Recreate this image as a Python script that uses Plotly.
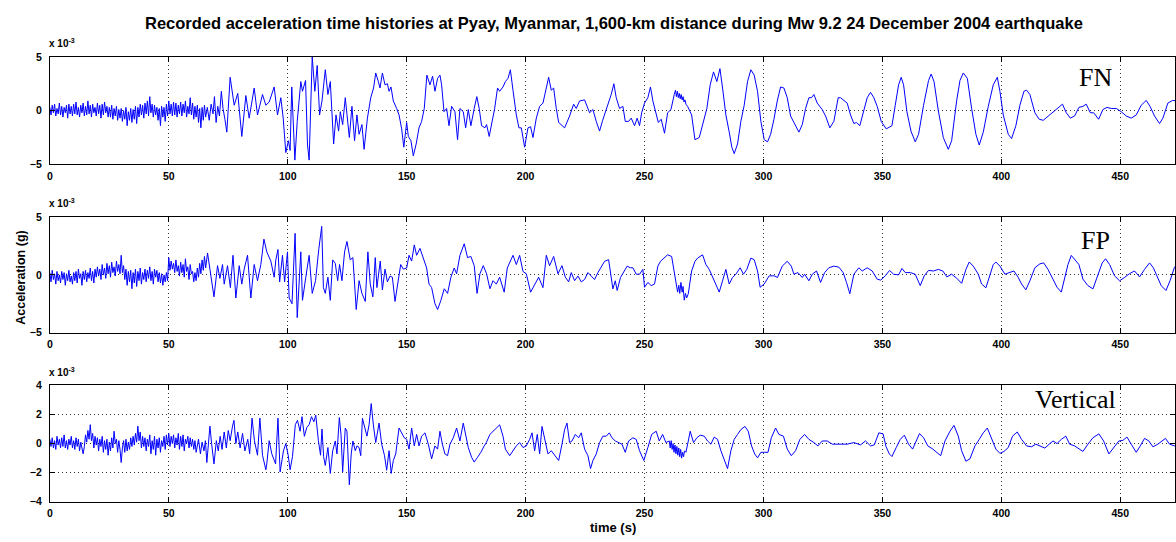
import numpy as np
import plotly.graph_objects as go

# Acceleration records, values in units of 1e-3 g.
# Early dense part: samples every 0.5 s starting at t = 0.
NOISE_STEP = 0.5

fn_early = [
    0.3, -0.4, 0.5, -0.2, 0.6, -0.5, 0.2, -0.3, 0.7, -0.4,
    0.4, -0.6, 0.3, -0.2, 0.5, -0.7, 0.6, -0.3, 0.4, -0.5,
    0.6, -0.3, 0.8, -0.4, 0.3, -0.6, 0.5, -0.2, 0.7, -0.5,
    0.4, -0.4, 0.9, -0.3, 0.5, -0.6, 0.6, -0.2, 0.3, -0.5,
    0.7, -0.3, 0.5, -0.7, 0.6, -0.4, 0.8, -0.2, 0.4, -0.6,
    0.3, -0.6, 0.5, -0.8, 0.2, -0.5, 0.4, -0.9, 0.1, -0.7,
    0.2, -1.0, 0.0, -0.8, 0.3, -1.4, -0.1, -0.9, 0.2, -1.1,
    0.1, -0.8, 0.4, -1.2, 0.3, -0.6, 0.6, -0.4, 0.5, -0.7,
    0.7, -0.3, 0.9, -0.5, 1.3, -0.2, 0.6, -0.6, 0.5, -0.4,
    0.3, -0.9, 0.2, -1.4, 0.4, -0.6, 0.3, -1.0, 0.6, -0.5,
    0.9, -0.3, 0.6, -0.5, 0.8, -0.4, 0.7, -0.6, 0.5, -0.3,
    0.8, -0.5, 0.6, -0.2, 0.9, -0.6, 0.4, -0.3, 1.2, -0.4,
    0.7, -0.8, 0.4, -0.6, 0.5, -1.1, 0.2, -1.6, 0.3, -0.9,
    0.5, -0.6,
]

fn_late = [
    (66.2, 0.3), (67.0, -0.9), (67.8, 0.6), (68.6, -0.3), (69.2, 1.3), (69.9, -1.1),
    (70.6, 0.4), (71.3, -0.5), (72.1, 1.8), (72.8, 0.2), (73.6, -0.8), (74.4, -2.0),
    (75.0, 0.2), (75.8, 3.1), (77.5, 0.5), (79.0, 1.6), (80.7, -2.4), (82.4, 1.4),
    (83.8, -0.7), (85.9, 2.1), (87.3, -0.4), (89.4, 1.5), (90.8, 0.5), (92.2, 0.8),
    (94.3, 2.2), (95.7, -0.4), (97.1, 1.2), (98.1, -0.7), (99.2, -3.9), (100.3, -2.8),
    (101.0, -3.7), (101.7, 2.2), (103.0, -4.6), (104.0, -1.0), (105.5, 2.7), (106.2, 1.8),
    (107.5, 2.8), (108.3, -3.1), (109.0, -4.6), (110.3, 5.0), (111.4, 1.8), (112.4, 4.2),
    (113.4, -0.4), (114.4, 0.9), (115.8, 3.8), (116.9, 1.5), (117.9, 2.7), (119.3, -3.1),
    (120.3, -0.4), (121.4, -1.9), (122.1, -0.1), (123.1, -1.3), (124.2, 1.2), (125.2, -1.3),
    (125.9, -2.5), (127.0, 0.4), (128.1, -2.8), (129.1, -0.4), (130.0, -2.2), (131.2, -1.3),
    (132.1, -3.6), (133.5, -0.7), (134.9, 1.2), (136.1, 2.1), (137.0, 3.5), (138.1, 2.7),
    (138.8, 2.1), (139.8, 3.5), (140.9, 2.4), (141.9, 2.5), (142.6, 1.8), (143.4, 2.2),
    (144.4, 0.9), (145.8, 0.2), (146.8, -0.4), (147.9, -1.7), (148.8, -3.4), (150.0, -1.1),
    (150.7, -2.4), (151.8, -2.8), (152.8, -4.2), (154.0, -3.1), (155.2, -1.6), (156.3, -1.0),
    (157.4, 0.2), (158.5, 3.3), (159.8, 2.4), (160.9, 3.2), (161.9, 1.8), (163.0, 3.0),
    (164.0, 3.3), (164.7, 2.4), (165.7, -0.1), (166.8, 0.2), (167.8, -1.4), (168.9, 0.4),
    (170.3, -0.1), (171.4, -2.7), (172.4, 0.2), (173.8, -0.1), (174.8, -1.6), (175.9, 0.1),
    (177.0, -1.4), (178.4, 0.2), (179.5, 1.3), (180.5, 0.2), (181.5, -1.4), (182.9, -1.6),
    (183.6, -1.3), (184.7, -2.4), (186.0, -1.0), (187.0, 0.2), (188.2, 2.1), (189.1, 1.8),
    (190.5, 2.2), (191.5, 2.7), (192.6, 3.0), (193.6, 3.8), (194.7, 1.9), (196.1, -0.4),
    (197.2, -1.6), (198.2, -1.6), (199.6, -3.4), (201.0, -1.6), (202.1, -1.5), (203.1, -2.5),
    (204.5, -0.7), (205.9, 0.4), (207.3, 0.7), (208.7, 2.2), (209.7, 3.1), (210.8, 1.9),
    (211.8, 2.1), (212.9, 0.2), (213.9, -1.1), (216.4, -1.6), (218.5, -0.5), (220.2, 0.6),
    (221.3, 0.2), (222.7, 0.9), (224.8, 1.0), (226.9, -0.2), (228.3, 0.1), (229.7, -1.0),
    (231.1, -1.9), (232.4, -0.9), (233.9, 0.1), (236.0, 1.5), (237.1, 2.5), (238.1, 1.2),
    (239.5, 0.2), (240.9, 0.4), (241.9, -1.0), (243.3, -1.0), (244.4, -0.7), (245.8, -1.4),
    (246.9, -0.7), (247.9, -1.4), (248.8, -0.2), (250.0, 0.7), (251.4, 1.2), (252.5, 2.2),
    (253.5, 0.9), (254.9, -0.4), (255.8, -1.1), (257.0, -0.8), (258.4, -2.1), (259.7, -0.2),
    (261.1, 0.1), (262.5, 1.5), (263.0, 1.9), (263.4, 1.3), (263.8, 1.8), (264.2, 1.2),
    (264.6, 1.6), (265.0, 1.1), (265.4, 1.5), (265.8, 1.0), (266.2, 1.3), (266.6, 0.8),
    (267.0, 1.0), (267.4, 0.6), (268.1, 0.4), (269.8, -0.4), (271.2, -2.7), (273.0, -2.5),
    (274.4, -1.4), (276.2, 0.2), (277.6, 2.4), (279.0, 3.6), (280.4, 2.7), (281.7, 3.9),
    (282.8, 2.1), (284.2, -0.4), (285.6, -2.0), (286.7, -3.4), (287.7, -4.0), (289.1, -3.1),
    (290.5, -1.0), (291.9, 0.5), (293.3, 2.7), (294.7, 3.8), (296.1, 3.3), (297.5, 1.8),
    (298.9, -1.0), (300.3, -2.7), (301.7, -2.9), (303.0, -2.2), (304.4, -0.8), (305.8, 0.9),
    (307.2, 2.2), (308.6, 2.1), (310.0, 1.2), (311.4, -0.5), (312.8, -1.1), (314.9, -2.0),
    (316.3, -1.3), (317.7, 0.2), (319.1, 1.2), (320.2, 1.2), (321.2, 1.5), (322.6, 0.7),
    (324.7, 0.1), (326.1, -0.5), (327.9, -1.6), (329.6, -1.0), (331.4, 1.2), (332.4, 1.2),
    (335.2, 0.7), (336.6, -0.4), (338.0, -1.2), (339.1, -1.1), (340.5, -1.4), (342.2, -0.1),
    (343.6, 1.2), (345.0, 1.7), (346.4, 1.2), (347.8, 0.4), (349.5, -1.0), (351.6, -1.7),
    (354.0, -1.4), (355.4, 0.5), (356.8, 2.4), (357.9, 3.1), (358.9, 2.4), (360.3, -0.1),
    (362.0, -1.9), (363.8, -2.9), (365.2, -2.2), (367.3, 0.5), (369.4, 2.8), (370.5, 3.4),
    (371.7, 2.7), (373.5, 0.0), (375.6, -2.5), (377.7, -3.6), (379.1, -2.8), (381.2, 0.9),
    (382.6, 2.8), (384.0, 3.5), (385.7, 3.0), (387.5, 0.2), (389.3, -2.2), (390.7, -3.2),
    (392.4, -2.0), (394.5, 0.4), (396.6, 2.4), (398.3, 3.1), (399.4, 1.8), (400.8, -0.4),
    (402.9, -2.2), (404.3, -2.6), (406.1, -1.4), (407.8, 0.5), (409.5, 1.8), (410.6, 1.9),
    (412.0, 1.5), (414.1, -0.2), (415.9, -0.8), (417.6, -0.9), (419.7, -0.5), (421.7, -0.1),
    (423.8, 0.3), (425.7, 0.6), (427.3, -0.2), (429.0, -0.7), (430.8, -0.5), (432.6, 0.3),
    (434.3, 0.4), (435.7, 0.6), (437.4, -0.2), (438.8, -0.2), (440.9, -0.8), (442.7, 0.1),
    (444.4, 0.3), (446.2, 0.2), (448.3, 0.2), (450.4, -0.1), (452.5, -0.5), (454.6, -0.7),
    (456.7, -0.4), (458.8, 0.5), (460.9, 0.95), (462.5, 0.4), (464.4, -0.5), (466.5, -1.2),
    (467.9, -0.7), (470.0, 0.7), (472.0, 0.95), (474.0, 0.9),
]

fp_early = [
    0.2, -0.6, 0.4, -0.4, 0.1, -0.8, 0.3, -0.5, 0.0, -0.7,
    0.3, -0.4, 0.2, -0.9, 0.1, -0.5, 0.4, -0.6, -0.1, -0.8,
    0.2, -0.5, 0.3, -0.7, 0.5, -0.3, 0.1, -0.9, 0.3, -0.4,
    0.4, -0.6, 0.2, -0.3, 0.6, -0.5, 0.3, -0.7, 0.5, -0.2,
    0.7, -0.1, 0.5, -0.4, 0.9, 0.0, 0.6, -0.3, 1.0, 0.1,
    0.8, -0.2, 1.1, 0.2, 0.7, -0.1, 1.2, 0.3, 0.9, 0.1,
    1.7, 0.2, 0.8, -0.4, 0.5, -0.9, 0.3, -0.6, 0.4, -1.2,
    0.2, -0.7, 0.5, -1.0, 0.3, -0.5, 0.6, -0.8, 0.2, -0.4,
    0.5, -0.6, 0.4, -0.3, 0.7, -0.5, 0.3, -0.8, 0.5, -0.2,
    0.4, -0.6, 0.2, -0.7, 0.1, -0.9, 0.0, -0.6, 0.2, -0.5,
    1.5, 0.4, 1.2, 0.5, 1.0, 0.2, 1.3, 0.3, 0.8, -0.1,
    1.1, 0.2, 0.9, -0.2, 1.4, 0.3, 0.7, -0.4, 0.9, 0.1,
    0.3, -0.6, 0.2, -0.5, 0.6, -0.2, 1.0, 0.1, 1.3, 0.4,
    1.6, 0.6,
]

fp_late = [
    (66.3, 1.9), (67.5, 0.2), (69.0, -1.9), (70.5, 0.8), (71.5, -0.3), (72.6, 0.9),
    (73.3, -0.8), (74.7, 0.8), (75.9, -1.1), (77.0, 1.7), (78.2, -2.0), (79.6, 0.8),
    (80.7, -0.8), (81.7, 0.5), (83.1, 1.7), (84.5, -2.0), (85.9, 0.9), (87.3, -0.5),
    (88.7, 0.9), (90.0, 3.1), (91.2, 2.0), (92.9, 1.2), (94.3, -0.2), (95.0, 1.3),
    (95.9, 2.2), (96.6, -0.6), (97.8, 1.7), (98.7, -0.6), (99.9, 2.0), (100.6, -2.0),
    (101.8, -2.5), (103.1, 3.6), (104.0, -3.7), (105.5, 2.0), (106.2, -2.2), (107.6, -0.2),
    (109.0, 1.7), (110.3, -1.6), (111.7, -0.5), (113.1, 2.3), (114.3, 4.2), (115.0, -1.1),
    (115.8, -1.6), (116.9, -0.2), (117.9, -2.2), (118.9, 1.3), (120.0, 1.0), (121.0, -0.5),
    (121.8, 0.9), (122.8, -0.5), (123.9, 2.0), (124.9, 2.9), (126.3, 1.3), (127.4, 1.5),
    (128.8, -3.0), (130.0, -0.5), (131.2, -1.6), (132.6, -2.3), (133.7, 2.0), (134.7, -0.8),
    (135.8, -1.9), (136.8, 1.5), (137.5, -1.1), (138.9, 1.2), (139.8, -1.3), (140.9, 0.5),
    (141.9, -0.6), (143.0, -0.1), (144.0, -0.2), (145.1, -2.3), (146.5, -0.2), (147.5, 0.9),
    (148.6, 0.5), (150.0, 0.6), (151.0, 1.7), (152.1, 1.2), (153.2, 2.6), (154.2, 1.7),
    (155.6, 2.3), (157.0, 1.5), (158.4, 0.6), (159.4, -0.8), (160.5, -1.1), (161.9, -2.5),
    (163.0, -3.0), (164.4, -2.2), (165.8, -1.2), (167.2, -1.6), (168.6, -0.2), (170.0, 0.6),
    (171.0, 0.1), (172.4, 1.7), (174.2, 2.7), (175.6, 1.5), (177.0, 1.6), (178.4, 0.8),
    (179.6, -1.6), (180.8, 0.1), (182.2, 0.8), (183.6, 0.1), (185.0, -1.2), (186.3, -0.5),
    (187.7, -0.8), (189.1, -0.2), (191.0, -1.5), (192.3, 0.6), (193.3, 1.0), (194.7, 1.7),
    (196.1, 0.9), (197.5, 1.7), (198.9, 0.3), (200.3, 0.1), (202.1, -1.5), (203.8, -0.8),
    (205.5, -0.2), (207.3, -1.1), (208.7, 1.7), (210.1, 0.8), (211.8, 1.6), (213.6, 0.1),
    (215.3, 0.8), (216.7, -0.2), (218.1, -0.6), (219.2, 0.2), (220.6, -0.5), (222.0, -0.1),
    (223.4, -0.6), (224.8, -0.4), (226.2, 0.2), (227.6, -0.1), (229.0, -0.4), (230.4, 0.2),
    (231.8, 0.76), (233.2, 1.18), (234.9, 1.32), (236.0, -0.22), (236.7, -1.21), (237.7, -0.51),
    (238.5, -1.35), (239.9, -0.22), (241.3, 0.34), (242.7, 0.76), (244.0, 0.62), (245.1, 0.62),
    (246.5, 0.06), (247.9, 0.06), (249.3, 0.48), (250.0, -1.07), (251.4, -0.65), (252.8, -0.93),
    (254.2, -0.79), (255.6, 0.76), (256.7, 1.18), (258.3, 1.46), (259.7, 1.74), (261.4, 1.6),
    (262.8, -0.37), (263.9, -1.49), (264.4, -0.9), (264.8, -1.6), (265.3, -0.65), (265.8, -1.5),
    (266.2, -1.0), (266.7, -2.19), (267.2, -1.6), (267.7, -2.0), (268.4, -1.63), (269.8, 0.34),
    (271.2, 1.18), (272.3, 1.46), (274.4, 1.74), (275.8, 0.9), (277.2, 0.48), (279.0, -0.37),
    (280.0, -0.79), (281.4, -1.49), (282.8, -0.51), (284.2, 0.48), (285.6, -0.79), (287.0, -0.22),
    (288.4, 0.06), (290.2, 0.62), (291.6, 0.06), (293.0, 0.48), (294.7, 1.46), (296.1, 1.32),
    (297.5, 0.34), (298.6, -1.07), (300.3, -0.79), (302.4, -0.08), (304.5, -0.08), (305.9, -0.22),
    (307.9, 0.76), (310.0, 1.18), (311.7, 0.76), (312.8, 0.06), (314.5, 0.2), (316.3, -0.22),
    (317.3, 0.06), (319.1, -0.51), (320.5, 0.06), (322.3, 0.34), (324.0, -0.65), (325.7, 0.2),
    (327.5, 0.62), (329.6, 0.76), (331.7, 0.67), (333.5, 0.2), (334.9, -0.65), (336.3, -1.63),
    (338.0, 0.06), (340.1, 0.62), (341.5, 0.34), (343.6, 0.62), (345.7, 0.34), (347.8, -0.37),
    (349.3, -0.45), (351.2, -0.08), (353.0, 0.39), (354.7, 0.06), (356.8, 0.0), (358.2, 0.56),
    (359.6, 0.2), (361.7, 0.2), (363.8, 0.06), (365.9, -0.93), (367.6, -0.08), (369.4, 0.39),
    (371.5, 0.34), (373.5, 0.48), (375.4, 0.34), (377.1, -0.17), (379.1, 0.06), (381.2, -0.28),
    (383.3, -0.73), (385.1, 0.48), (386.5, 1.12), (388.2, 0.76), (390.3, 0.06), (391.7, -0.79),
    (393.5, -1.12), (395.2, 0.06), (396.6, 0.9), (397.7, 1.12), (399.4, 0.76), (401.5, 0.06),
    (403.6, 0.2), (405.3, 0.34), (407.1, -0.22), (408.5, -0.79), (410.3, -1.29), (412.0, -0.51),
    (414.1, 0.62), (416.2, 0.96), (417.8, 1.04), (419.6, 0.48), (421.7, -0.37), (423.4, -1.07),
    (425.2, -1.49), (426.6, -0.22), (428.0, 0.9), (429.4, 1.69), (430.8, 1.32), (432.6, 0.9),
    (434.3, -0.37), (436.4, -0.93), (438.5, -1.21), (440.6, 0.06), (442.4, 1.04), (443.8, 1.40),
    (445.5, 0.9), (447.6, -0.08), (449.7, -0.51), (451.8, -0.22), (453.9, 0.11), (456.0, 0.34),
    (458.1, -0.17), (460.2, 0.48), (462.3, 1.04), (463.9, 0.62), (465.8, -0.37), (467.2, -0.93),
    (469.2, -1.35), (470.9, -0.51), (472.7, 0.62), (474.0, 1.0),
]

vert_early = [
    0.3, -0.2, 0.4, -0.3, 0.2, -0.4, 0.5, -0.1, 0.3, -0.3,
    0.4, -0.2, 0.6, -0.3, 0.2, -0.4, 0.3, -0.1, 0.5, -0.3,
    0.2, -0.4, 0.4, -0.2, 0.3, -0.5, 0.1, -0.3, -0.7, -0.2,
    0.6, 0.1, 0.9, 0.3, 1.3, 0.2, 0.7, -0.3, 0.5, -0.1,
    0.4, -0.5, 0.3, -0.2, 0.5, -0.6, 0.2, -0.4, 0.3, -0.8,
    0.1, -0.5, 0.4, -0.3, 0.85, 0.0, 0.3, -0.6, 0.2, -0.4,
    -1.3, -0.3, 0.2, -0.6, 0.3, -0.5, 0.1, -0.4, 0.4, -0.2,
    0.5, -0.1, 0.7, 0.1, 1.2, 0.2, 0.8, -0.3, 0.5, -0.2,
    0.4, -0.5, 0.3, -0.2, 0.6, -0.7, 0.2, -0.4, 0.5, -0.8,
    0.3, -0.3, 0.4, -0.6, 0.2, -0.2, 0.5, -0.4, 0.6, -0.1,
    0.7, -0.2, 0.5, 0.0, 0.6, -0.3, 0.4, -0.1, 0.7, -0.4,
    0.5, -0.2, 0.6, -0.5, 0.3, 0.0, 0.5, -0.3, 0.4, -0.2,
    0.3, -0.4, 0.2, -0.6,
]

vert_late = [
    (62.5, 0.3), (63.3, -0.7), (64.0, 0.1), (64.8, -0.5), (65.4, 0.2), (66.0, -1.3),
    (66.8, 0.4), (67.3, 1.2), (68.0, 0.0), (69.0, -1.4), (70.0, 0.2), (70.8, -0.5),
    (71.6, 0.5), (72.4, -0.4), (73.3, 0.8), (74.2, -0.3), (75.0, 0.9), (75.8, 0.2),
    (76.8, 1.2), (77.4, 1.6), (78.2, 0.0), (79.0, 0.8), (80.0, -0.3), (81.0, 0.7),
    (82.0, -0.5), (83.2, 0.3), (84.0, -0.7), (85.0, 1.75), (86.0, 0.2), (87.3, -0.8),
    (88.3, 1.75), (89.4, -0.8), (90.8, -1.8), (91.2, -1.4), (92.2, 0.2), (93.3, -0.7),
    (94.9, -1.4), (95.9, 1.75), (96.8, -1.95), (98.2, -0.5), (99.2, 0.0), (100.2, -0.8),
    (101.0, -1.8), (102.0, -0.9), (103.2, 1.3), (104.1, 1.6), (105.2, 0.85), (106.0, 1.85),
    (107.0, 0.5), (108.0, 1.1), (109.0, 1.3), (110.0, 1.85), (111.0, 1.5), (111.8, 1.95),
    (112.9, 0.2), (113.8, -0.8), (114.4, 1.0), (115.1, -0.9), (115.8, -1.5), (116.9, -0.27),
    (117.9, -2.05), (118.9, -0.5), (120.0, 0.18), (120.7, -0.71), (121.7, 1.79), (122.4, 0.63),
    (123.1, -1.94), (124.2, 1.07), (124.9, 0.85), (125.9, -2.83), (126.7, -0.71), (127.4, 0.18),
    (128.4, -0.49), (129.1, -0.16), (130.0, -0.27), (130.7, -0.83), (131.4, 1.74), (132.3, 1.07),
    (133.3, 0.51), (134.2, 1.29), (135.1, 2.75), (136.0, 1.29), (137.0, 0.07), (138.4, 1.41),
    (139.5, -0.04), (140.7, -0.83), (141.6, -1.83), (142.6, -0.49), (143.5, -2.05), (144.4, -1.16),
    (145.4, -0.71), (146.8, 1.07), (147.9, 0.74), (149.0, 0.40), (150.0, 0.29), (151.0, -0.38),
    (152.1, 1.07), (153.2, -0.16), (154.2, 0.63), (155.2, -0.16), (156.3, 0.51), (157.7, 0.74),
    (159.1, -0.04), (160.5, -1.05), (161.9, -0.16), (163.0, -0.38), (164.0, 0.85), (165.0, -0.04),
    (166.1, -0.71), (167.2, -0.83), (168.2, -0.04), (169.6, 0.40), (171.0, 1.07), (172.4, 0.18),
    (173.8, 1.41), (174.8, 0.51), (175.9, -0.27), (177.3, -0.94), (178.4, -1.27), (179.8, -0.94),
    (181.2, -0.60), (182.6, -0.16), (183.5, 0.07), (185.0, 0.63), (186.3, 0.85), (187.7, 1.07),
    (189.1, 1.29), (190.5, 0.51), (191.5, -0.38), (193.3, -0.83), (194.7, -0.49), (196.1, -0.16),
    (197.5, 0.07), (198.9, -0.27), (200.3, -0.16), (201.7, 0.29), (202.7, 0.74), (203.8, -0.49),
    (204.9, 0.63), (205.9, -0.71), (206.9, 1.18), (208.0, 0.29), (209.4, -0.71), (210.8, -0.49),
    (212.2, -0.83), (213.9, -1.16), (215.3, -0.04), (216.4, 0.96), (217.4, 1.41), (218.5, 0.07),
    (219.5, 0.18), (220.9, 0.63), (222.3, 0.40), (223.4, 0.74), (224.8, -0.38), (226.2, -0.83),
    (227.3, -1.72), (228.3, -1.16), (229.7, -0.71), (231.1, 0.07), (232.5, 0.51), (233.9, 0.51),
    (235.2, 0.74), (236.3, 0.40), (237.7, 0.18), (239.1, 0.07), (240.5, -0.04), (241.9, -0.60),
    (243.3, 0.18), (245.1, 0.40), (246.5, 0.29), (247.9, -0.49), (249.7, -1.16), (251.4, -0.27),
    (253.0, 0.63), (254.9, 0.85), (256.2, 0.18), (257.6, 0.63), (259.0, 0.07), (260.4, 0.18),
    (260.8, -0.3), (261.2, 0.2), (261.6, -0.4), (262.0, 0.0), (262.4, -0.6), (262.8, -0.1),
    (263.2, -0.7), (263.6, -0.2), (264.0, -0.8), (264.4, -0.3), (264.8, -0.9), (265.2, -0.4),
    (265.6, -1.0), (266.0, -0.6), (266.4, -0.9), (266.8, -0.5), (267.4, -0.6), (268.4, 0.18),
    (269.2, 0.85), (270.6, 0.07), (272.0, 0.40), (273.4, 0.58), (275.1, 0.51), (276.5, 0.18),
    (277.9, -0.04), (279.3, 0.45), (280.7, 0.29), (282.1, -0.49), (283.5, -1.16), (284.9, -1.72),
    (286.3, -0.49), (287.7, 0.29), (289.1, 0.63), (290.5, 0.96), (292.2, 1.18), (293.6, 0.85),
    (295.0, -0.16), (296.3, -0.71), (297.5, -0.98), (298.9, -0.60), (300.5, -0.60), (301.9, -0.60),
    (303.3, 0.40), (305.1, 1.07), (306.5, 0.63), (308.4, 0.51), (310.0, -0.38), (311.7, -0.83),
    (313.5, -0.49), (315.3, 0.29), (317.3, 0.63), (319.1, 0.29), (321.2, 0.07), (322.9, -0.16),
    (324.7, 0.18), (326.8, 0.18), (328.9, -0.04), (331.0, -0.04), (333.1, -0.04), (335.2, -0.04),
    (338.0, 0.07), (340.8, -0.09), (342.9, 0.18), (345.0, -0.16), (346.6, -0.09), (348.5, 0.74),
    (350.3, 0.67), (351.5, -0.2), (352.9, -0.71), (354.0, -0.89), (355.8, -0.27), (357.5, 0.29),
    (359.2, 0.58), (361.0, -0.04), (362.7, -0.38), (364.2, 0.18), (365.6, 0.69), (367.3, 0.40),
    (369.1, -0.16), (371.2, -0.38), (372.9, -0.60), (374.5, -0.83), (376.3, 0.18), (378.4, 0.85),
    (380.1, 1.25), (381.9, 0.51), (383.3, -0.49), (385.1, -1.21), (386.8, -1.05), (388.9, -0.16),
    (390.7, 0.29), (392.4, 0.74), (394.1, 1.07), (395.9, 0.29), (397.7, -0.38), (399.4, -0.67),
    (401.1, -0.54), (402.9, -0.27), (404.7, 0.51), (406.7, 0.80), (408.5, 0.29), (410.6, -0.16),
    (412.7, -0.22), (414.5, -0.04), (416.2, -0.16), (418.3, -0.31), (420.1, -0.04), (421.7, 0.18),
    (423.4, 0.0), (425.2, 0.29), (427.1, 0.51), (428.7, -0.04), (430.8, -0.16), (432.9, -0.38),
    (434.3, -0.54), (436.4, -0.04), (438.5, 0.40), (441.0, 0.67), (443.0, 0.18), (445.2, -0.71),
    (447.2, -0.27), (449.4, 0.18), (451.1, 0.22), (452.8, 0.45), (454.6, -0.04), (456.7, -0.60),
    (458.4, -0.16), (460.2, 0.36), (462.0, 0.18), (463.7, -0.22), (465.8, -0.04), (467.6, 0.18),
    (469.0, 0.36), (470.7, -0.04), (472.8, -0.16), (474.5, 0.1),
]

channel_names = ["FN", "FP", "Vertical"]
y_limits = [(-5, 5), (-5, 5), (-4, 4)]
y_ticks = [[-5, 0, 5], [-5, 0, 5], [-4, -2, 0, 2, 4]]
x_ticks = list(range(0, 451, 50))
T_MAX = 473

title_text = ("Recorded acceleration time histories at Pyay, Myanmar, "
              "1,600-km distance during Mw 9.2 24 December 2004 earthquake")


def build_series(early, late):
    t = list(np.arange(len(early)) * NOISE_STEP)
    v = list(early)
    t += [p[0] for p in late]
    v += [p[1] for p in late]
    return t, v


series = [build_series(fn_early, fn_late),
          build_series(fp_early, fp_late),
          build_series(vert_early, vert_late)]

W, H = 1176, 542
# panel pixel boxes (top, bottom) and left edge
panel_px = [(52, 162), (216, 334), (388, 507)]
left_px = 47

SANS = "Liberation Sans, Arial, sans-serif"
fig = go.Figure()
tick_font = dict(family=SANS, size=10.5, color="black", weight="bold")
grid_style = dict(showgrid=True, gridcolor="rgba(0,0,0,0.8)",
                  griddash="1px,3px", gridwidth=1, zeroline=False)

for i, ((t, v), (top, bot)) in enumerate(zip(series, panel_px)):
    ax = "" if i == 0 else str(i + 1)
    fig.add_trace(go.Scatter(
        x=t, y=v, mode="lines", line=dict(color="#0000ff", width=1),
        xaxis="x" + ax, yaxis="y" + ax, showlegend=False, hoverinfo="skip"))
    dom_y = [1 - bot / H, 1 - top / H]
    fig.update_layout(**{
        "xaxis" + ax: dict(
            domain=[left_px / W, 1.0], range=[0, T_MAX], anchor="y" + ax,
            tickvals=x_ticks, ticks="inside", ticklen=5, tickcolor="black",
            showline=True, linecolor="black", linewidth=1, mirror="ticks",
            tickfont=tick_font, ticklabelstandoff=2, **grid_style,
        ),
        "yaxis" + ax: dict(
            domain=dom_y, range=list(y_limits[i]), anchor="x" + ax,
            tickvals=y_ticks[i], ticks="inside", ticklen=5, tickcolor="black",
            showline=True, linecolor="black", linewidth=1, mirror="ticks",
            tickfont=tick_font, ticklabelstandoff=5, **grid_style,
        ),
    })
    # exponent marker above each panel
    fig.add_annotation(
        x=(left_px - 3) / W, y=1 - (top - 6) / H, xref="paper", yref="paper",
        xanchor="left", yanchor="bottom", showarrow=False,
        text="x 10<sup>-3</sup>",
        font=dict(family=SANS, size=10, color="black", weight="bold"))

# channel labels
label_pos = [(1096, 73), (1096, 240), (1076, 402)]
for (name, (px, py)) in zip(channel_names, label_pos):
    fig.add_annotation(
        x=px / W, y=1 - py / H, xref="paper", yref="paper",
        xanchor="center", yanchor="middle", showarrow=False, text=name,
        font=dict(family="Liberation Serif, Times New Roman, serif",
                  size=26, color="black"))

# title and axis titles
fig.add_annotation(
    x=613 / W, y=1 - 17 / H, xref="paper", yref="paper", showarrow=False,
    xanchor="center", yanchor="middle", text=title_text,
    font=dict(family=SANS, size=16.5, color="black", weight="bold"))
fig.add_annotation(
    x=18 / W, y=1 - 278 / H, xref="paper", yref="paper", showarrow=False,
    xanchor="center", yanchor="middle", text="Acceleration (g)", textangle=-90,
    font=dict(family=SANS, size=12.5, color="black", weight="bold"))
fig.add_annotation(
    x=612 / W, y=1 - 533 / H, xref="paper", yref="paper", showarrow=False,
    xanchor="center", yanchor="middle", text="time (s)",
    font=dict(family=SANS, size=13, color="black", weight="bold"))

fig.update_layout(
    width=W, height=H, margin=dict(l=0, r=0, t=0, b=0),
    paper_bgcolor="white", plot_bgcolor="white",
)

fig.write_html("out.html")
